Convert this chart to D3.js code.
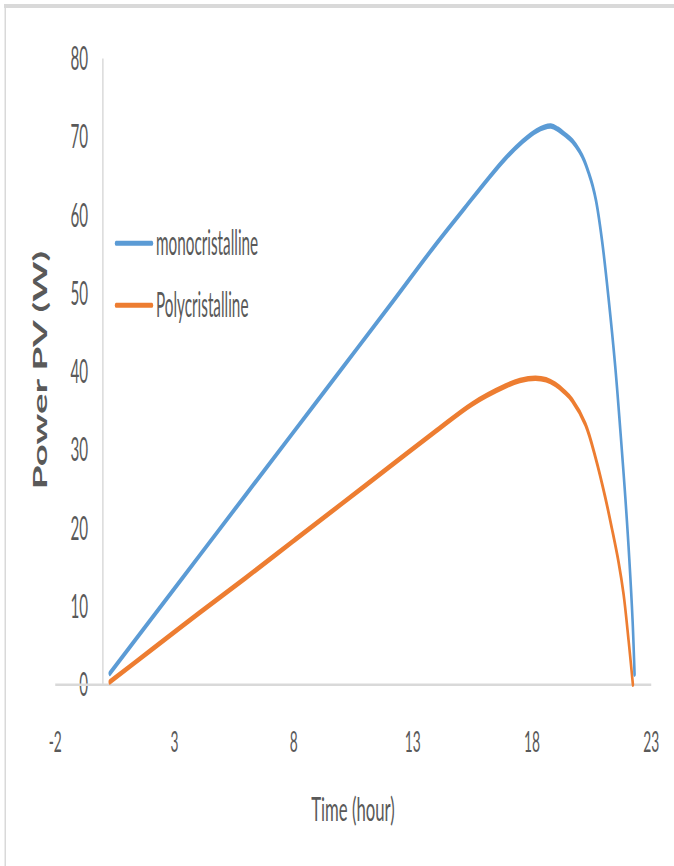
<!DOCTYPE html>
<html>
<head>
<meta charset="utf-8">
<script src="https://cdn.jsdelivr.net/npm/d3@7"></script>
<style>
  html, body { margin: 0; padding: 0; background: #ffffff; }
  svg { display: block; }
</style>
</head>
<body>
<div id="chart"></div>
<script>
// ---------------- data ----------------
const seriesNames = ["monocristalline", "Polycristalline"];
const xTicks = [-2, 3, 8, 13, 18, 23];
const yTicks = [0, 10, 20, 30, 40, 50, 60, 70, 80];

const monoTime  = [0.3, 2, 4, 6, 8, 10, 12, 14, 15.2, 16.2, 16.9, 17.6, 18.2, 18.8, 19.1, 19.4, 19.7, 20.0, 20.2, 20.4, 20.55, 20.7, 20.95, 21.22, 21.5, 21.71, 21.92, 22.09, 22.23, 22.31];
const monoPower = [1.4, 8.2, 16.2, 24.2, 32.2, 40.2, 48.2, 56.3, 60.9, 64.7, 67.2, 69.3, 70.7, 71.3, 70.9, 70.2, 69.4, 68.1, 66.9, 65.2, 63.7, 61.7, 56.6, 49.3, 40.6, 32.6, 24.0, 16.0, 8.0, 1.3];

const polyTime  = [0.3, 2, 4, 6, 8, 10, 12, 14, 15.5, 16.9, 17.5, 18.15, 18.6, 18.99, 19.35, 19.69, 20.25, 20.67, 21.08, 21.36, 21.64, 21.85, 22.06, 22.24];
const polyPower = [0.3, 4.3, 9.0, 13.6, 18.3, 23.0, 27.7, 32.4, 35.8, 38.1, 38.8, 39.1, 38.9, 38.3, 37.4, 36.3, 33.2, 29.0, 23.9, 19.9, 15.6, 11.5, 5.6, 0];

const colors = ["#5B9BD5", "#ED7D31"];

// ---------------- layout ----------------
const W = 674, H = 866;
const S = 0.475;           // horizontal squeeze of the whole picture
const FONT = "Lato, 'Open Sans', sans-serif";
const TXT = "#595959";

const svg = d3.select("#chart").append("svg")
  .attr("width", W).attr("height", H);

svg.append("rect").attr("width", W).attr("height", H).attr("fill", "#fff");
// frame
svg.append("rect").attr("x", 4).attr("y", 4).attr("width", W - 4).attr("height", 4).attr("fill", "#d9d9d9");
svg.append("rect").attr("x", 4.5).attr("y", 4).attr("width", 1.5).attr("height", H - 4).attr("fill", "#d9d9d9");

const g = svg.append("g").attr("transform", `scale(${S},1)`);

const x = d3.scaleLinear().domain([-2, 23]).range([55 / S, 651 / S]);
const y = d3.scaleLinear().domain([0, 80]).range([684.3, 58]);

// y axis
const yAxis = g.append("g")
  .attr("transform", `translate(${x(0)},0)`)
  .call(d3.axisLeft(y).tickValues(yTicks).tickSize(0).tickSizeOuter(0).tickFormat(d => String(d)));
yAxis.select(".domain").attr("stroke", "#c4c4c4").attr("stroke-width", 2);
yAxis.selectAll(".tick text")
  .attr("x", -14.5 / S).attr("dy", "0.36em")
  .attr("font-family", FONT).attr("font-size", 32).attr("fill", TXT);

// x axis
const xAxis = g.append("g")
  .attr("transform", `translate(0,${y(0)})`)
  .call(d3.axisBottom(x).tickValues(xTicks).tickSize(0).tickSizeOuter(0).tickFormat(d => String(d)));
xAxis.select(".domain").attr("stroke", "#d9d9d9").attr("stroke-width", 2.6);
xAxis.selectAll(".tick text")
  .attr("y", 67.4).attr("dy", 0)
  .attr("font-family", FONT).attr("font-size", 29).attr("fill", TXT);

// lines
const line = d3.line().x(d => x(d[0])).y(d => y(d[1])).curve(d3.curveCatmullRom.alpha(0.5));
const monoData = monoTime.map((t, i) => [t, monoPower[i]]);
const polyData = polyTime.map((t, i) => [t, polyPower[i]]);

g.append("path").datum(polyData)
  .attr("d", line).attr("fill", "none")
  .attr("stroke", colors[1]).attr("stroke-width", 5.5)
  .attr("stroke-linejoin", "round").attr("stroke-linecap", "round");
g.append("path").datum(monoData)
  .attr("d", line).attr("fill", "none")
  .attr("stroke", colors[0]).attr("stroke-width", 5.5)
  .attr("stroke-linejoin", "round").attr("stroke-linecap", "round");

// legend
const legendY = [243.3, 305.3];
seriesNames.forEach((name, i) => {
  g.append("line")
    .attr("x1", 116 / S).attr("x2", 152 / S)
    .attr("y1", legendY[i]).attr("y2", legendY[i])
    .attr("stroke", colors[i]).attr("stroke-width", 5).attr("stroke-linecap", "round");
  g.append("text")
    .attr("transform", `translate(${156 / S},${legendY[i] + 11.7}) scale(0.92,1)`)
    .attr("font-family", FONT).attr("font-size", 35).attr("fill", TXT)
    .text(name);
});

// axis titles
g.append("text")
  .attr("transform", `translate(${353 / S},821) scale(1.1,1)`)
  .attr("text-anchor", "middle")
  .attr("font-family", FONT).attr("font-size", 32).attr("fill", TXT)
  .text("Time (hour)");

g.append("text")
  .attr("transform", `translate(${47 / S},370) rotate(-90)`)
  .attr("text-anchor", "middle")
  .attr("font-family", FONT).attr("font-size", 38.5).attr("font-weight", "bold").attr("fill", TXT)
  .text("Power PV (W)");
</script>
</body>
</html>
